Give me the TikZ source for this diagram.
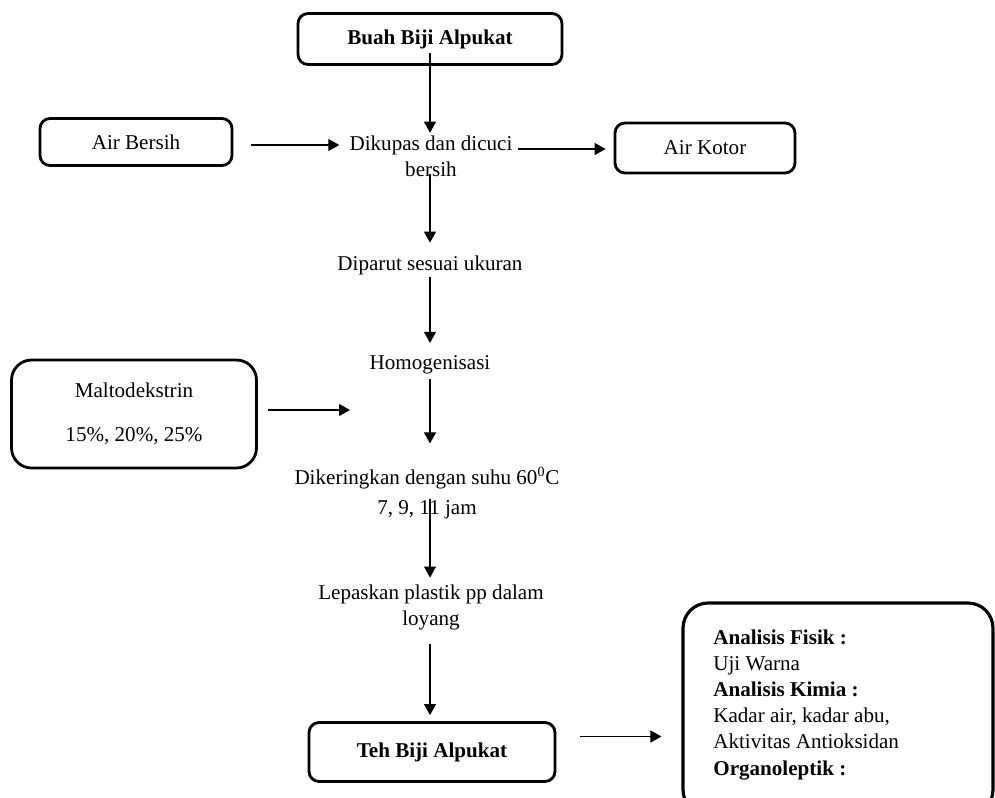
\documentclass[tikz,border=0pt]{standalone}
\usepackage{fontspec}
\setmainfont{Liberation Serif}
\usetikzlibrary{arrows.meta}
\newcommand{\taille}{\fontsize{12}{14.8}\selectfont}

\begin{document}
\begin{tikzpicture}[x=0.02cm, y=-0.02cm, font=\taille,
    kotak/.style={draw, line width=1.6pt, rounded corners=2mm, inner sep=0pt},
    tebal/.style={font=\taille\bfseries},
    etape/.style={align=center, inner sep=0pt},
    fleche/.style={-{Triangle[length=2.2mm, width=2.4mm]}, line width=0.6pt}]
\clip (0,0) rectangle (995,798);
% boites
\node[kotak, tebal, minimum width=5.28cm, minimum height=1.02cm] (buah) at (430,39) {Buah Biji Alpukat};
\node[kotak, minimum width=3.84cm, minimum height=0.94cm] (bersih) at (136,142) {Air Bersih};
\node[kotak, minimum width=3.6cm, minimum height=1cm] (kotor) at (705,148) {Air Kotor};
\node[kotak, rounded corners=4mm, minimum width=4.9cm, minimum height=2.16cm,
      align=center] (malto) at (134,414) {Maltodekstrin\\[10.2pt]15\%, 20\%, 25\%};
\node[kotak, tebal, minimum width=4.92cm, minimum height=1.18cm] (teh) at (432,752) {Teh Biji Alpukat};
\node[kotak, line width=1.8pt, rounded corners=5mm, minimum width=6.2cm,
      minimum height=4.24cm] (analisis) at (838,709) {};
\node[anchor=west, align=left, inner sep=0pt] (uji) at (713,705)
  {\textbf{Analisis Fisik :}\\Uji Warna\\\textbf{Analisis Kimia :}\\
   Kadar air, kadar abu,\\Aktivitas Antioksidan\\\textbf{Organoleptik :}};
% etapes
\node[etape] (kupas) at (431,156) {Dikupas dan dicuci\\bersih};
\node[etape] (parut) at (430,265) {Diparut sesuai ukuran};
\node[etape] (homog) at (430,365) {Homogenisasi};
\node[etape] (kering) at (427,493) {Dikeringkan dengan suhu 60\textsuperscript{0}C\\[2.3pt]7, 9, 11 jam};
\node[etape] (lepas) at (431,607) {Lepaskan plastik pp dalam\\loyang};
\coordinate (masuk) at (350,410);
% fleches verticales
\draw[fleche, shorten >=0.5mm] ([yshift=2.5mm]buah.south) -- (kupas.north -| buah.south);
\foreach \a/\b/\d/\f in {kupas/parut/0.6mm/2.5mm, parut/homog/-0.5mm/2.5mm,
                         homog/kering/-0.9mm/4.7mm, kering/lepas/4.1mm/1.3mm,
                         lepas/teh/-2.9mm/1.2mm}
  \draw[fleche, shorten >=\f] ([yshift=\d]\a.south -| buah.south) -- (\b.north -| buah.south);
% fleches horizontales
\draw[fleche, shorten <=3.6mm, shorten >=2mm] ([yshift=-0.6mm]bersih.east) -- ([yshift=-0.6mm]bersih.east -| kupas.west);
\draw[fleche, shorten <=1mm, shorten >=1.6mm] ([yshift=-0.2mm]kotor.west -| kupas.east) -- ([yshift=-0.2mm]kotor.west);
\draw[fleche, shorten <=2mm] (malto.east |- masuk) -- (masuk);
\draw[fleche, shorten <=4.8mm, shorten >=4mm] ([yshift=3.1mm]teh.east) -- ([yshift=3.1mm]teh.east -| analisis.west);
\end{tikzpicture}
\end{document}
